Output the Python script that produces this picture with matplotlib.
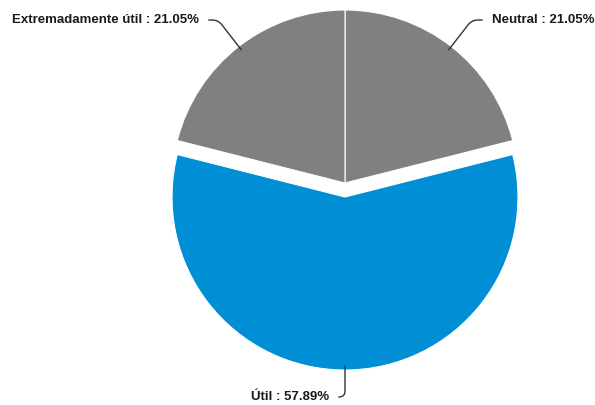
import numpy as np
import matplotlib.pyplot as plt

labels = ["Neutral", "Útil", "Extremadamente útil"]
values = [21.05, 57.89, 21.05]
colors = ["#808080", "#008fd5", "#808080"]
explode = [0, 14, 0]

plt.rcParams['font.family'] = ['Liberation Sans', 'DejaVu Sans']

fig = plt.figure(figsize=(5.95, 4.05), dpi=100)
ax = fig.add_axes([0, 0, 1, 1])

cx, cy, r = 345, 222, 173
wedges, _ = ax.pie(values, colors=colors, explode=explode, startangle=90,
                   counterclock=False, center=(cx, cy), radius=r,
                   wedgeprops=dict(edgecolor='white', linewidth=0.8),
                   frame=True)
ax.set_xlim(0, 595)
ax.set_ylim(0, 405)
ax.set_aspect('equal')
ax.axis('off')

# label anchor and alignment
text_pos = [(492, 385, 'left'), (329, 8, 'right'), (199, 385, 'right')]
for w, lab, v, (tx, ty, ha) in zip(wedges, labels, values, text_pos):
    mid = (w.theta1 + w.theta2) / 2
    ang = np.deg2rad(mid)
    wx, wy = w.center
    px, py = wx + (r - 4) * np.cos(ang), wy + (r - 4) * np.sin(ang)
    ax.annotate(f"{lab} : {v:.2f}%", xy=(px, py), xytext=(tx, ty),
                ha=ha, va='center', fontsize=9.5, fontweight='bold', color='#1a1a1a',
                arrowprops=dict(arrowstyle='-', color='#333333', lw=1,
                                shrinkA=5, shrinkB=0,
                                connectionstyle=f"angle,angleA=0,angleB={mid},rad=6"))

fig.savefig("out.png", dpi=100)
